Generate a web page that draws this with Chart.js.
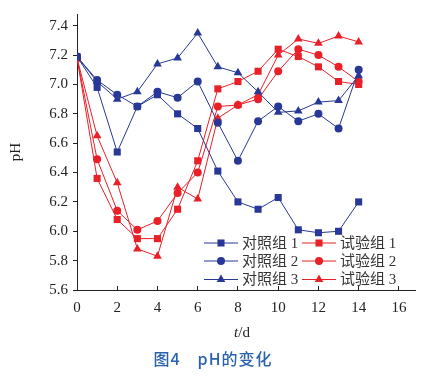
<!DOCTYPE html>
<html>
<head>
<meta charset="utf-8">
<script src="https://cdn.jsdelivr.net/npm/chart.js@4/dist/chart.umd.min.js"></script>
<style>
    body { margin: 0; background: #fff; }
    #wrap { position: relative; width: 436px; height: 376px; }
    #xTitle { position: absolute; left: 0; width: 484px; top: 324px; text-align: center;
        font: 15px "Liberation Serif", serif; color: #222; }
    #caption { position: absolute; left: 0; width: 426px; top: 346px; text-align: center;
        font: 500 16px "Noto Sans CJK SC", sans-serif; letter-spacing: 1px; color: #2a62ae; }
</style>
</head>
<body>
<div id="wrap">
    <canvas id="phChart" width="436" height="376"></canvas>
    <div id="xTitle"><i>t</i>/d</div>
    <div id="caption">图4&#12288;pH的变化</div>
</div>
<script>
// days and pH readings
const days = [0, 1, 2, 3, 4, 5, 6, 7, 8, 9, 10, 11, 12, 13, 14];
const control1 = [7.19, 6.98, 6.54, 6.85, 6.93, 6.80, 6.70, 6.41, 6.20, 6.15, 6.23, 6.01, 5.99, 6.00, 6.20];
const control2 = [7.19, 7.03, 6.93, 6.85, 6.95, 6.91, 7.02, 6.74, 6.48, 6.75, 6.85, 6.75, 6.80, 6.70, 7.10];
const control3 = [7.19, 7.02, 6.90, 6.95, 7.14, 7.18, 7.35, 7.12, 7.08, 6.95, 6.81, 6.82, 6.88, 6.89, 7.06];
const test1 = [7.18, 6.36, 6.08, 5.95, 5.95, 6.15, 6.48, 6.97, 7.02, 7.09, 7.24, 7.19, 7.12, 7.02, 7.00];
const test2 = [7.18, 6.49, 6.14, 6.01, 6.07, 6.26, 6.40, 6.85, 6.86, 6.90, 7.09, 7.24, 7.20, 7.12, 7.02];
const test3 = [7.18, 6.65, 6.33, 5.88, 5.83, 6.30, 6.22, 6.77, 6.86, 6.93, 7.20, 7.31, 7.28, 7.33, 7.29];
const seriesNames = ['对照组 1', '对照组 2', '对照组 3', '试验组 1', '试验组 2', '试验组 3'];
const xTicks = [0, 2, 4, 6, 8, 10, 12, 14, 16];
const yTicks = [5.6, 5.8, 6.0, 6.2, 6.4, 6.6, 6.8, 7.0, 7.2, 7.4];

const BLUE = 'rgb(40, 56, 150)';
const RED = 'rgb(232, 32, 40)';
const serif = '"Liberation Serif", serif';

function makeSet(label, values, color, style, radius) {
    return {
        label: label,
        data: values.map((v, i) => ({ x: days[i], y: v })),
        borderColor: color,
        backgroundColor: color,
        borderWidth: 1,
        pointStyle: style,
        pointRadius: radius,
        pointBorderWidth: 0,
        tension: 0
    };
}

const datasets = [
    makeSet(seriesNames[0], control1, BLUE, 'rect', 5),
    makeSet(seriesNames[1], control2, BLUE, 'circle', 4),
    makeSet(seriesNames[2], control3, BLUE, 'triangle', 5),
    makeSet(seriesNames[3], test1, RED, 'rect', 5),
    makeSet(seriesNames[4], test2, RED, 'circle', 4),
    makeSet(seriesNames[5], test3, RED, 'triangle', 5)
];

// legend drawn inside the plot, two columns x three rows
const innerLegend = {
    id: 'innerLegend',
    afterDraw(chart) {
        const ctx = chart.ctx;
        const cols = [204, 302];
        const rows = [243, 261, 279.5];
        ctx.save();
        ctx.font = '15px "Liberation Serif", "Noto Sans CJK SC", serif';
        ctx.textBaseline = 'middle';
        chart.data.datasets.forEach((ds, i) => {
            const x = cols[Math.floor(i / 3)];
            const y = rows[i % 3];
            ctx.strokeStyle = ds.borderColor;
            ctx.lineWidth = 1;
            ctx.beginPath();
            ctx.moveTo(x, y);
            ctx.lineTo(x + 34, y);
            ctx.stroke();
            ctx.fillStyle = ds.backgroundColor;
            Chart.helpers.drawPoint(ctx, { pointStyle: ds.pointStyle, radius: ds.pointRadius, borderWidth: 0 }, x + 17, y);
            ctx.fillStyle = '#333';
            ctx.fillText(ds.label, x + 38, y + 1);
        });
        ctx.restore();
    }
};

new Chart(document.getElementById('phChart'), {
    type: 'line',
    data: { datasets: datasets },
    options: {
        responsive: false,
        animation: false,
        layout: { padding: { left: 0, right: 21, top: 6, bottom: 0 } },
        plugins: { legend: { display: false }, tooltip: { enabled: false } },
        scales: {
            x: {
                type: 'linear',
                min: 0,
                max: 16.8,
                afterBuildTicks: s => { s.ticks = xTicks.map(v => ({ value: v })); },
                afterFit: s => { s.height = 86; },
                border: { color: '#222', width: 1 },
                grid: { drawOnChartArea: false, color: '#222', tickLength: -4 },
                ticks: { color: '#222', padding: 13, maxRotation: 0, font: { family: serif, size: 15 } }
            },
            y: {
                min: 5.6,
                max: 7.48,
                afterBuildTicks: s => { s.ticks = yTicks.map(v => ({ value: v })); },
                afterFit: s => { s.width = 77; },
                border: { color: '#222', width: 1 },
                grid: { drawOnChartArea: false, color: '#222', tickLength: 4 },
                ticks: { color: '#222', padding: 5, font: { family: serif, size: 15 },
                    callback: v => v.toFixed(1) },
                title: { display: true, text: 'pH', color: '#222', padding: { top: 7, bottom: 0 },
                    font: { family: serif, size: 15 } }
            }
        }
    },
    plugins: [innerLegend]
});
</script>
</body>
</html>
